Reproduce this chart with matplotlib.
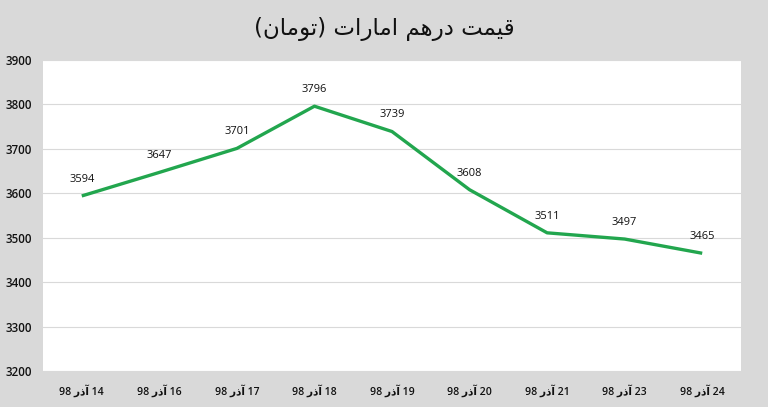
import matplotlib
matplotlib.use("Agg")
import matplotlib.pyplot as plt

# data
days = [14, 16, 17, 18, 19, 20, 21, 23, 24]
prices = [3594, 3647, 3701, 3796, 3739, 3608, 3511, 3497, 3465]
yticks = [3200, 3300, 3400, 3500, 3600, 3700, 3800, 3900]

# simple persian shaping (matplotlib does no bidi / joining)
FORMS = {
    "ق": ("\uFED5", "\uFED6", "\uFED7", "\uFED8"),
    "ی": ("\uFBFC", "\uFBFD", "\uFBFE", "\uFBFF"),
    "م": ("\uFEE1", "\uFEE2", "\uFEE3", "\uFEE4"),
    "ت": ("\uFE95", "\uFE96", "\uFE97", "\uFE98"),
    "ه": ("\uFEE9", "\uFEEA", "\uFEEB", "\uFEEC"),
    "ن": ("\uFEE5", "\uFEE6", "\uFEE7", "\uFEE8"),
    "د": ("\uFEA9", "\uFEAA"),
    "ذ": ("\uFEAB", "\uFEAC"),
    "ر": ("\uFEAD", "\uFEAE"),
    "ا": ("\uFE8D", "\uFE8E"),
    "آ": ("\uFE81", "\uFE82"),
    "و": ("\uFEED", "\uFEEE"),
}

def fa(word):
    out = []
    for i, ch in enumerate(word):
        f = FORMS[ch]
        prev = word[i - 1] if i > 0 else None
        nxt = word[i + 1] if i < len(word) - 1 else None
        join_prev = prev is not None and len(FORMS[prev]) == 4
        join_next = nxt is not None and len(f) == 4
        if join_prev and join_next:
            out.append(f[3])
        elif join_prev:
            out.append(f[1])
        elif join_next:
            out.append(f[2])
        else:
            out.append(f[0])
    return "".join(reversed(out))

title = "(" + fa("تومان") + ") " + fa("امارات") + " " + fa("درهم") + " " + fa("قیمت")
labels = [f"98 {fa('آذر')} {d}" for d in days]

plt.rcParams['font.family'] = ['Open Sans', 'DejaVu Sans']

fig = plt.figure(figsize=(7.68, 4.07), dpi=100)
fig.patch.set_facecolor('#d9d9d9')
ax = fig.add_axes([43 / 768, 1 - 371 / 407, 698 / 768, 311 / 407])
ax.set_facecolor('white')

x = list(range(len(days)))
ax.plot(x, prices, color='#22a64e', linewidth=2.4, solid_capstyle='butt')
for xi, p in zip(x, prices):
    ax.annotate(str(p), (xi, p), xytext=(0, 8), textcoords='offset points',
                ha='center', va='bottom', fontsize=8, color='#111111')

ax.set_xlim(-0.5, len(days) - 0.5)
ax.set_ylim(3200, 3900)
ax.set_yticks(yticks)
ax.set_yticklabels([str(v) for v in yticks], fontsize=8.3, fontweight='semibold',
                   color='#111111', va='center_baseline')
ax.set_xticks(x)
ax.set_xticklabels(labels, fontsize=7.6, fontweight='semibold', color='#111111',
                   family=['Open Sans', 'DejaVu Sans'])
ax.tick_params(axis='both', length=0)
ax.tick_params(axis='y', pad=8)
ax.tick_params(axis='x', pad=10)
ax.grid(axis='y', color='#d9d9d9', linewidth=0.8)
ax.set_axisbelow(True)
for s in ax.spines.values():
    s.set_visible(False)

fig.text(0.5, 1 - 29 / 407, title, ha='center', va='center', fontsize=16.5,
         color='#111111', family=['DejaVu Sans'])

fig.savefig('out.png', dpi=100, facecolor=fig.get_facecolor())
